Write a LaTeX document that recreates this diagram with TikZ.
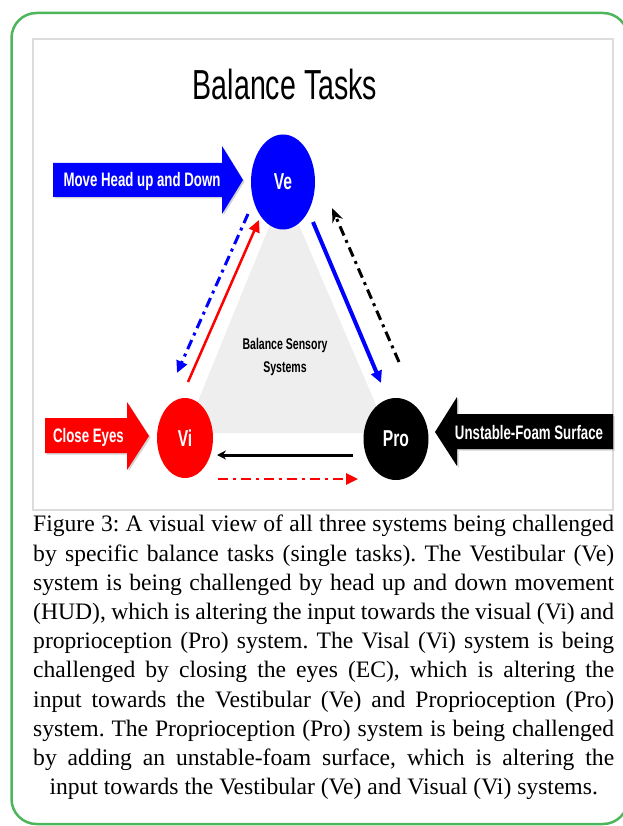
\documentclass[tikz,border=0pt]{standalone}
\usepackage{fontspec}
\usepackage{tikz}
\setmainfont{Liberation Serif}
\newfontfamily\diagfont[FakeStretch=0.68]{Liberation Sans}
\usetikzlibrary{shapes.geometric, arrows.meta, shadows}
\definecolor{FrameGreen}{HTML}{4DB65C}
\definecolor{PanelGray}{HTML}{DCDCDC}
\definecolor{TriGray}{HTML}{EEEEEE}
\definecolor{PureBlue}{HTML}{0000FF}
\definecolor{PureRed}{HTML}{FF0000}
\newcommand{\capline}[1]{\makebox[581pt][s]{#1}}
\frenchspacing

\begin{document}
\begin{tikzpicture}[x=1pt, y=-1pt,
    sysnode/.style={ellipse, inner sep=0pt, text=white, font=\diagfont\bfseries\fontsize{23}{23}\selectfont},
    tasklabel/.style={text=white, inner sep=0pt, font=\diagfont\bfseries\fontsize{19.5}{19.5}\selectfont},
    taskshadow/.style={drop shadow={opacity=0.35, shadow xshift=1.5pt, shadow yshift=-1.5pt}},
    link/.style={line width=3pt, -{Triangle[length=12pt,width=11pt]}},
    dashlink/.style={link, dash pattern=on 10pt off 5pt on 3pt off 5pt}]
    \useasboundingbox (0,0) rectangle (622,826);
    \fill[white] (0,0) rectangle (622,826);

    % frame and panel
    \draw[FrameGreen, line width=2.5pt, rounded corners=25pt] (11.5,13) rectangle (628,824);
    \draw[PanelGray, line width=1.2pt] (33,39) rectangle (613,510);
    \node[font=\diagfont\fontsize{42}{42}\selectfont] (title) at (285,84) {Balance Tasks};

    % centre triangle
    \fill[TriGray] (284,190) -- (185,433) -- (388,433) -- cycle;
    \node[align=center, font=\diagfont\bfseries\fontsize{15.5}{23}\selectfont] (sensory) at (285,357) {Balance Sensory\\Systems};

    % systems
    \node[sysnode, fill=PureBlue, minimum width=64pt, minimum height=95pt] (ve) at (283,182) {Ve};
    \node[sysnode, fill=PureRed, minimum width=56pt, minimum height=80pt] (vi) at (185,438) {Vi};
    \node[sysnode, fill=black, minimum width=65pt, minimum height=82pt] (pro) at (396,439) {Pro};

    % links between the systems
    \draw[link, PureBlue, line width=4pt] ([shift={(30,40)}]ve.center) -- ([shift={(-15,-56)}]pro.center);
    \draw[dashlink, -{Stealth[length=14pt,width=11pt]}] ([shift={(3,-77)}]pro.center) -- ([shift={(49,26)}]ve.center);
    \draw[dashlink, PureBlue] ([shift={(-35,32)}]ve.center) -- ([shift={(-8,-65)}]vi.center);
    \draw[link, PureRed, line width=2.5pt] ([shift={(3,-56)}]vi.center) -- ([shift={(-24,38)}]ve.center);
    \draw[link, -{Stealth[length=9pt,width=9pt]}] ([shift={(-43,16)}]pro.center) -- ([shift={(32,17)}]vi.center);
    \draw[dashlink, PureRed, line width=2.5pt] ([shift={(33,41)}]vi.center) -- ([shift={(-38,40)}]pro.center);

    % task arrows
    \fill[PureBlue, taskshadow] (53,163) -- (222,163) -- (222,146) -- (243,180) -- (222,214) -- (222,197) -- (53,197) -- cycle;
    \node[tasklabel] (movehead) at (142,181) {Move Head up and Down};
    \fill[PureRed, taskshadow] (45,418) -- (127,418) -- (127,402) -- (149,436) -- (127,470) -- (127,453) -- (45,453) -- cycle;
    \node[tasklabel] (closeeyes) at (88.5,437) {Close Eyes};
    \fill[black, taskshadow] (613,414) -- (457,414) -- (457,397) -- (435,432) -- (457,466) -- (457,449) -- (613,449) -- cycle;
    \node[tasklabel] (foam) at (529,433) {Unstable-Foam Surface};

    % caption
    \node[anchor=north west, inner sep=0pt, align=left, font=\fontsize{23.6}{29.2}\selectfont] (caption) at (33,515) {%
        \capline{Figure 3: A visual view of all three systems being challenged}\\
        \capline{by specific balance tasks (single tasks). The Vestibular (Ve)}\\
        \capline{system is being challenged by head up and down movement}\\
        \capline{(HUD), which is altering the input towards the visual (Vi) and}\\
        \capline{proprioception (Pro) system. The Visal (Vi) system is being}\\
        \capline{challenged by closing the eyes (EC), which is altering the}\\
        \capline{input towards the Vestibular (Ve) and Proprioception (Pro)}\\
        \capline{system. The Proprioception (Pro) system is being challenged}\\
        \capline{by adding an unstable-foam surface, which is altering the}\\
        \makebox[581pt][c]{input towards the Vestibular (Ve) and Visual (Vi) systems.}};
\end{tikzpicture}
\end{document}
